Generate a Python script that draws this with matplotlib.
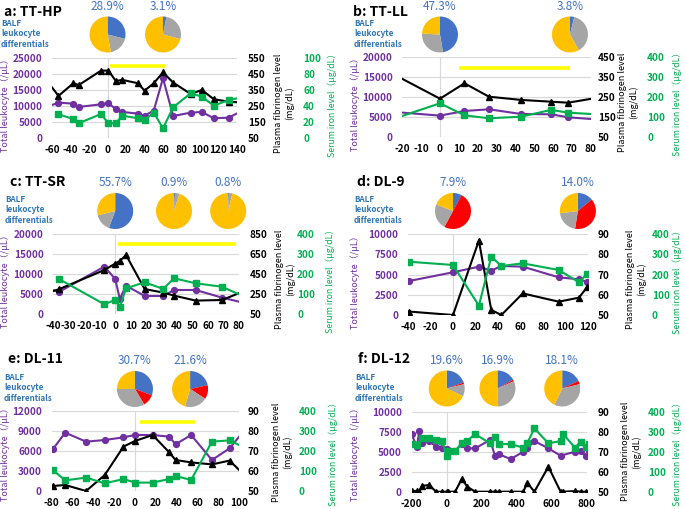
import numpy as np
import matplotlib
matplotlib.use('Agg')
import matplotlib.pyplot as plt

plt.rcParams['font.family'] = ['Noto Sans CJK JP', 'DejaVu Sans']
plt.rcParams['axes.unicode_minus'] = False

W, H = 685, 509
PURPLE = '#7030A0'
GREEN = '#00B050'
BLACK = '#000000'
YELLOW = '#FFFF00'
PIE_COLORS = ['#4472C4', '#FF0000', '#A5A5A5', '#FFC000']
PCT_COLOR = '#4472C4'
BALF_COLOR = '#2E75B6'
GRID = '#D9D9D9'
nan = np.nan

# ---------------- data ----------------
# panel a: TT-HP
a_days = [-68, -53, -37, -31, -7, 1, 9, 16, 33, 40, 50, 60, 71, 90, 102, 115, 131, 148]
a_leu = [9567, 11150, 10830, 9800, 10630, 10940, 9170, 8230, 7710, 7080, 8650, 18750, 6980, 8020, 8230, 6250, 6460, 8971]
a_fib = [429, 315, 394, 383, 473, 473, 408, 415, 394, 348, 394, 462, 398, 327, 352, 294, 279, 272]
a_iron = [nan, 30, 24.2, 18.8, 30.4, 18.8, 18.8, 28.3, 25, 22.9, 32, 12.5, 38.8, 56.3, 52, 40.8, 47.9, 51.8]
a_bar = [3, 62]
a_bar_level = 22600
a_pie_days = [0, 60]
a_pie_pct = ['28.9%', '3.1%']
a_pies = [[28.9, 0, 18, 53.1], [3.1, 0, 26, 70.9]]

# panel b: TT-LL
b_days = [-25, 0, 13, 26, 43, 59, 68, 85]
b_leu = [6362, 5420, 6580, 7000, 5830, 5750, 5000, 4400]
b_fib = [367, 243, 320, 253, 237, 228, 223, 250]
b_iron = [91, 170, 110, 95, 103, 137, 123, 114]
b_bar = [10, 69]
b_bar_level = 17250
b_pie_days = [0, 69]
b_pie_pct = ['47.3%', '3.8%']
b_pies = [[47.3, 0, 28.5, 24.2], [3.8, 0, 38, 58.2]]

# panel c: TT-SR
c_days = [-46, -36, -7, 0, 3, 7, 19, 31, 38, 52, 69, 86]
c_leu = [6508, 5670, 11920, 8830, 3830, 7170, 4580, 4580, 6080, 6080, 4170, 2604]
c_fib = [252, 303, 493, 557, 583, 643, 303, 267, 237, 187, 193, 298]
c_iron = [nan, 175, 50, 72, 38, 130, 160, 127, 180, 155, 138, 78.5]
c_bar = [2, 78]
c_bar_level = 17580
c_pie_days = [0, 38, 73]
c_pie_pct = ['55.7%', '0.9%', '0.8%']
c_pies = [[55.7, 0, 15.5, 28.8], [0.9, 0, 4, 95.1], [0.8, 0, 3, 96.2]]

# panel d: DL-9
d_days = [-39, 0, 23, 34, 43, 62, 94, 112, 119]
d_leu = [4215, 5290, 5990, 5500, 6070, 5990, 4670, 4420, 4130]
d_fib = [51.7, 50, 86.9, 52.5, 50, 60.7, 56.6, 58.6, 63.7]
d_iron = [264, 248, 46, 289, 243, 256, 223, 162, 203]
d_bar = None
d_bar_level = None
d_pie_days = [0, 111]
d_pie_pct = ['7.9%', '14.0%']
d_pies = [[7.9, 50, 23, 19.1], [14.0, 38.5, 20.5, 27]]

# panel e: DL-11
e_days = [-79, -67, -47, -29, -11, 0, 17, 33, 39, 54, 74, 91, 106]
e_leu = [6250, 8750, 7400, 7650, 8050, 8400, 8400, 8150, 7000, 8400, 4650, 6400, 9267]
e_fib = [52.5, 53, 50, 58, 72.2, 75, 78, 69.3, 65.5, 64.3, 63.3, 65.2, 57.5]
e_iron = [105, 53, 67, 38, 60, 42, 42, 60, 75, 55, 247, 253, 215]
e_bar = [5, 58]
e_bar_level = 10300
e_pie_days = [0, 53]
e_pie_pct = ['30.7%', '21.6%']
e_pies = [[30.7, 10.7, 33.6, 25], [21.6, 12.5, 20.5, 45.4]]

# panel f: DL-12
f_days = [-200, -171, -156, -139, -99, -61, -29, 0, 10, 48, 86, 118, 162, 248, 276, 299,
          366, 438, 460, 501, 581, 651, 667, 733, 766, 796, 815]
f_leu = [7170, 5625, 7580, 6125, 6330, 5625, 5500, 5290, 4920, 5080, 5960, 5420, 5420, 6460, 4460, 4670,
         4080, 5000, 5420, 6330, 5420, 4500, nan, 5000, 5080, 4460, 5050]
f_fib = [50.5, 50.3, 50, 53, 53.3, 50, 50, 50, 50, 50, 56.3, 52.5, 50, 50, 50, 50,
         50, 50, 54.5, 50, 62.5, 50, 50, 50.3, 50, 50, nan]
f_iron = [237, 233, nan, 270, 267, 258, 255, 178, 205, 203, 242, 255, 288, 242, 272, 238,
          238, 220, 242, 317, 242, 253, 287, 220, 250, 222, 240]
f_bar = None
f_bar_level = None
f_pie_days = [0, 290, 660]
f_pie_pct = ['19.6%', '16.9%', '18.1%']
f_pies = [[19.6, 1.5, 11, 67.9], [16.9, 1.5, 31, 50.6], [18.1, 3, 36, 42.9]]

titles = ['a: TT-HP', 'b: TT-LL', 'c: TT-SR', 'd: DL-9', 'e: DL-11', 'f: DL-12']

# axis ranges (min, max, step)
a_ranges = dict(x=(-60, 140, 20), leu=(0, 25000, 5000), fib=(50, 550, 100), iron=(0, 100, 20))
b_ranges = dict(x=(-20, 80, 10), leu=(0, 20000, 5000), fib=(50, 450, 100), iron=(0, 400, 100))
c_ranges = dict(x=(-40, 80, 10), leu=(0, 20000, 5000), fib=(50, 850, 200), iron=(0, 400, 100))
d_ranges = dict(x=(-40, 120, 20), leu=(0, 10000, 2500), fib=(50, 90, 10), iron=(0, 400, 100))
e_ranges = dict(x=(-80, 100, 20), leu=(0, 12000, 3000), fib=(50, 90, 10), iron=(0, 400, 100))
f_ranges = dict(x=(-200, 800, 200), leu=(0, 10000, 2500), fib=(50, 90, 10), iron=(0, 400, 100))

# ---------------- layout (pixels) ----------------
layouts = [
    dict(box=(52, 58.3, 237, 138.3), title=(4, 12), balf=(1, 18.5), pie_y=34.5, pct_y=6.5,
         lab_l=5.5, lab_f=284, lab_i=332, fib_t=248, iron_t=303, lab_dy=5),
    dict(box=(402.3, 57.3, 590.7, 137.3), title=(353, 12), balf=(354, 18.5), pie_y=34.5, pct_y=6.5,
         lab_l=355, lab_f=628, lab_i=677, fib_t=598, iron_t=647, lab_dy=5),
    dict(box=(53.3, 234.3, 239, 314.3), title=(10, 182), balf=(5, 194.5), pie_y=211, pct_y=182,
         lab_l=5.5, lab_f=285, lab_i=330, fib_t=250, iron_t=297, lab_dy=5),
    dict(box=(408, 234.3, 588, 315), title=(357, 182), balf=(354, 194.5), pie_y=211, pct_y=182,
         lab_l=355, lab_f=636, lab_i=677, fib_t=598, iron_t=652, lab_dy=5),
    dict(box=(51.7, 411, 239, 491), title=(8, 359), balf=(4, 372.5), pie_y=389, pct_y=360,
         lab_l=5.5, lab_f=282, lab_i=333, fib_t=248, iron_t=299, lab_dy=1),
    dict(box=(411.7, 411.7, 586.7, 491.7), title=(358, 359), balf=(355, 372.5), pie_y=388.5, pct_y=360,
         lab_l=355, lab_f=631, lab_i=677, fib_t=598, iron_t=648, lab_dy=0),
]

panels = [
    (a_days, a_leu, a_fib, a_iron, a_bar, a_bar_level, a_pie_days, a_pie_pct, a_pies, a_ranges),
    (b_days, b_leu, b_fib, b_iron, b_bar, b_bar_level, b_pie_days, b_pie_pct, b_pies, b_ranges),
    (c_days, c_leu, c_fib, c_iron, c_bar, c_bar_level, c_pie_days, c_pie_pct, c_pies, c_ranges),
    (d_days, d_leu, d_fib, d_iron, d_bar, d_bar_level, d_pie_days, d_pie_pct, d_pies, d_ranges),
    (e_days, e_leu, e_fib, e_iron, e_bar, e_bar_level, e_pie_days, e_pie_pct, e_pies, e_ranges),
    (f_days, f_leu, f_fib, f_iron, f_bar, f_bar_level, f_pie_days, f_pie_pct, f_pies, f_ranges),
]

fig = plt.figure(figsize=(W / 100, H / 100), dpi=100)
TICK_FS = 7.2
TICK_W = 'bold'
PT = 0.72  # points per pixel at 100 dpi


def fx(x):
    return x / W


def fy(y):
    return 1 - y / H


def ticks(r):
    return np.arange(r[0], r[1] + r[2] * 0.5, r[2])


def series(ax, days, vals, color, marker, ms):
    d = np.asarray(days, float)
    v = np.asarray(vals, float)
    m = ~np.isnan(v)
    ax.plot(d[m], v[m], color=color, lw=1.5, marker=marker, ms=ms,
            mfc=color, mec=color, clip_on=True, zorder=3)


def style_ticks(ax, axis, color):
    labels = ax.get_xticklabels() if axis == 'x' else ax.get_yticklabels()
    for lab in labels:
        lab.set_fontweight(TICK_W)
        lab.set_color(color)


for (days, leu, fib, iron, bar, bar_level, pdays, ppct, pies, rng), lay, title in zip(panels, layouts, titles):
    l, t, r, b = lay['box']
    ax = fig.add_axes([fx(l), fy(b), (r - l) / W, (b - t) / H])
    ax.set_xlim(rng['x'][0], rng['x'][1])
    ax.set_ylim(rng['leu'][0], rng['leu'][1])
    xt = ticks(rng['x'])
    ax.set_xticks(xt)
    ax.set_xticklabels([str(int(v)) for v in xt])
    yt = ticks(rng['leu'])
    ax.set_yticks(yt)
    ax.set_yticklabels([str(int(v)) for v in yt])
    for s in ax.spines.values():
        s.set_visible(False)
    ax.grid(axis='y', color=GRID, lw=0.8)
    ax.set_axisbelow(True)
    ax.axvline(0, color=GRID, lw=0.8, zorder=0)
    ax.tick_params(length=0, labelsize=TICK_FS)
    ax.tick_params(axis='y', pad=7)
    ax.tick_params(axis='x', pad=5)
    style_ticks(ax, 'x', BLACK)
    style_ticks(ax, 'y', PURPLE)
    if bar is not None:
        ax.plot(bar, [bar_level, bar_level], color=YELLOW, lw=2.6, solid_capstyle='butt', zorder=2)
    series(ax, days, leu, PURPLE, 'o', 4.2)

    ax2 = ax.twinx()
    ax2.set_ylim(rng['fib'][0], rng['fib'][1])
    ft = ticks(rng['fib'])
    ax2.set_yticks(ft)
    ax2.set_yticklabels([str(int(v)) for v in ft])
    for s in ax2.spines.values():
        s.set_visible(False)
    ax2.tick_params(length=0, labelsize=TICK_FS, pad=(lay['fib_t'] - r) * PT)
    style_ticks(ax2, 'y', BLACK)
    series(ax2, days, fib, BLACK, '^', 4.2)

    ax3 = ax.twinx()
    ax3.set_ylim(rng['iron'][0], rng['iron'][1])
    it = ticks(rng['iron'])
    ax3.set_yticks(it)
    ax3.set_yticklabels([str(int(v)) for v in it])
    for s in ax3.spines.values():
        s.set_visible(False)
    ax3.spines['right'].set_position(('outward', (lay['iron_t'] - r) * PT))
    ax3.tick_params(length=0, labelsize=TICK_FS, pad=0)
    style_ticks(ax3, 'y', GREEN)
    series(ax3, days, iron, GREEN, 's', 4.2)

    cy = (t + b) / 2 + lay['lab_dy']
    fig.text(fx(lay['lab_l']), fy(cy), 'Total leukocyte（/μL）', rotation=90, color=PURPLE,
             fontsize=6.5, ha='center', va='center')
    fig.text(fx(lay['lab_f']), fy(cy), 'Plasma fibrinogen level\n(mg/dL)', rotation=90, color=BLACK,
             fontsize=6.5, ha='center', va='center', multialignment='center', linespacing=1.15)
    fig.text(fx(lay['lab_i']), fy(cy), 'Serum iron level（μg/dL）', rotation=90, color=GREEN,
             fontsize=6.3, ha='center', va='center')

    fig.text(fx(lay['title'][0]), fy(lay['title'][1]), title, fontsize=10, fontweight='bold',
             ha='left', va='center')
    fig.text(fx(lay['balf'][0]), fy(lay['balf'][1]), 'BALF\nleukocyte\ndifferentials', color=BALF_COLOR,
             fontsize=5.8, fontweight='bold', ha='left', va='top', linespacing=1.25)

    R = 18
    for pd_, pp, fr in zip(pdays, ppct, pies):
        cx = ax.transData.transform((pd_, 0))[0]
        pcy = lay['pie_y']
        pax = fig.add_axes([(cx - R) / W, fy(pcy + R), 2 * R / W, 2 * R / H])
        pax.pie(fr, colors=PIE_COLORS, startangle=90, counterclock=False,
                wedgeprops=dict(linewidth=0))
        pax.set_xlim(-1, 1)
        pax.set_ylim(-1, 1)
        pax.axis('off')
        fig.text(cx / W, fy(lay['pct_y']), pp, color=PCT_COLOR, fontsize=8.5, ha='center', va='center')

fig.savefig('out.png', dpi=100)
